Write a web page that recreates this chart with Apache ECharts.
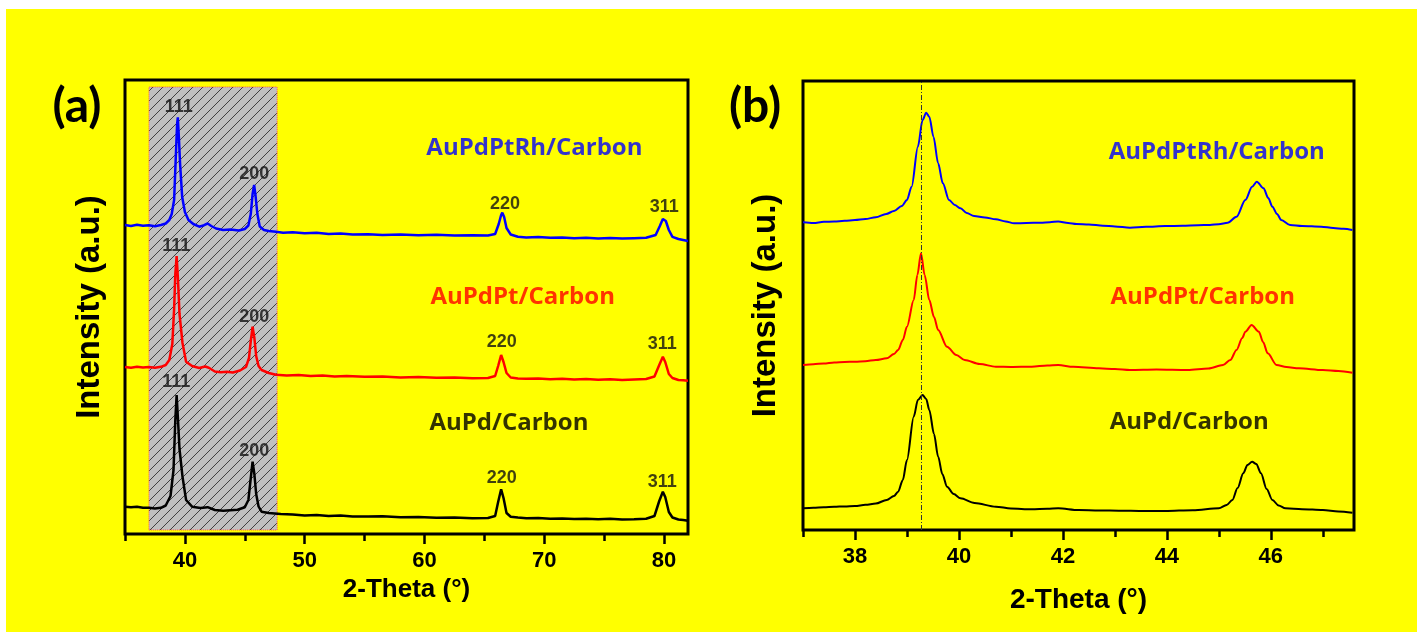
<!DOCTYPE html>
<html><head><meta charset="utf-8">
<script src="https://cdn.jsdelivr.net/npm/echarts@6/dist/echarts.min.js"></script>
<style>
html,body{margin:0;padding:0;background:#fff;}
#bg{position:absolute;left:6px;top:9px;right:0;bottom:0;background:#ffff00;}
#c{position:absolute;left:0;top:0;width:1417px;height:632px;}
</style></head><body>
<div id="bg"></div><div id="c"></div>
<script>
// ---------- DATA ----------
// Panel (a): full XRD patterns, stacked intensity (a.u.)
const majorTicksA = [40, 50, 60, 70, 80];
const minorTicksA = [35, 45, 55, 65, 75];
const majorTicksB = [38, 40, 42, 44, 46];
const minorTicksB = [37, 39, 41, 43, 45, 47];
const seriesNames = ['AuPdPtRh/Carbon', 'AuPdPt/Carbon', 'AuPd/Carbon'];
const seriesColors = ['#0000ff', '#ff0000', '#000000'];

const patternA_PtRh = [[35.0,3090],[35.5,3080],[36.0,3092],[36.5,3082],[37.0,3088],[37.5,3078],[38.0,3090],[38.4,3105],[38.7,3140],[38.9,3200],[39.1,3340],[39.25,3800],[39.35,4100],[39.41,4167],[39.5,3960],[39.6,3700],[39.77,3373],[40.0,3220],[40.3,3140],[40.7,3100],[41.2,3073],[41.6,3088],[41.9,3105],[42.2,3080],[42.6,3055],[43.2,3040],[43.8,3045],[44.5,3035],[45.0,3050],[45.3,3085],[45.5,3200],[45.65,3400],[45.78,3490],[45.9,3380],[46.05,3200],[46.25,3075],[46.6,3040],[47.0,3030],[47.6,3022],[48.2,3012],[49.0,3018],[50.0,3008],[51.0,3012],[52.0,3000],[53.0,3005],[54.0,2995],[55.3,2998],[56.5,2990],[58.0,2996],[59.5,2988],[61.0,2992],[62.5,2984],[64.0,2988],[65.3,2985],[65.9,3000],[66.2,3100],[66.4,3190],[66.5,3213],[66.65,3170],[66.85,3060],[67.2,2995],[67.8,2972],[68.5,2966],[69.5,2970],[70.5,2962],[71.5,2966],[72.5,2958],[73.5,2963],[74.5,2956],[75.5,2960],[76.5,2954],[77.5,2958],[78.5,2962],[79.3,2990],[79.65,3080],[79.9,3150],[80.0,3163],[80.15,3130],[80.4,3040],[80.7,2972],[81.2,2950],[81.6,2940],[82.0,2930]];

const patternA_Pt = [[35.0,1670],[35.5,1662],[36.0,1672],[36.5,1664],[37.0,1670],[37.5,1662],[38.0,1672],[38.4,1690],[38.7,1740],[38.95,1900],[39.1,2250],[39.2,2600],[39.31,2780],[39.42,2550],[39.55,2200],[39.8,1910],[40.1,1723],[40.6,1680],[41.2,1660],[41.7,1675],[42.0,1662],[42.5,1625],[43.0,1618],[43.5,1622],[44.0,1615],[44.6,1635],[45.1,1670],[45.35,1760],[45.5,1930],[45.65,2073],[45.8,1960],[45.95,1780],[46.15,1680],[46.4,1640],[47.0,1610],[47.6,1592],[48.5,1585],[49.5,1590],[50.5,1580],[51.5,1584],[52.5,1575],[53.5,1580],[55.0,1572],[56.5,1576],[58.0,1566],[59.5,1570],[61.0,1562],[62.5,1566],[64.0,1558],[65.3,1560],[65.9,1580],[66.15,1680],[66.4,1790],[66.6,1720],[66.85,1610],[67.2,1565],[67.8,1556],[68.5,1552],[69.5,1555],[70.5,1548],[71.5,1552],[72.5,1545],[73.5,1550],[74.5,1543],[75.5,1547],[76.5,1540],[77.5,1545],[78.5,1550],[79.2,1575],[79.6,1690],[79.9,1773],[80.1,1720],[80.4,1600],[80.7,1560],[81.2,1540],[81.6,1537],[82.0,1533]];

const patternA_Pd = [[35.0,273],[35.5,268],[36.0,272],[36.5,262],[37.0,262],[37.5,255],[38.0,262],[38.4,285],[38.8,380],[39.05,640],[39.2,1140],[39.31,1390],[39.42,1150],[39.55,850],[39.8,573],[40.1,340],[40.6,273],[41.3,260],[41.9,268],[42.5,240],[43.2,233],[43.8,238],[44.4,242],[45.0,268],[45.3,340],[45.5,560],[45.65,723],[45.8,600],[45.95,400],[46.15,275],[46.4,223],[47.0,210],[48.0,200],[49.0,195],[50.0,186],[51.0,190],[52.0,180],[53.0,184],[54.0,176],[55.3,174],[56.5,178],[58.0,168],[59.5,170],[61.0,162],[62.5,165],[64.0,158],[65.3,160],[65.9,180],[66.15,320],[66.4,447],[66.6,360],[66.85,210],[67.2,172],[67.8,165],[68.5,158],[69.5,160],[70.5,152],[71.5,156],[72.5,150],[73.5,153],[74.5,148],[75.5,152],[76.5,145],[77.5,148],[78.5,152],[79.2,180],[79.6,330],[79.9,423],[80.1,370],[80.4,220],[80.7,165],[81.2,145],[81.6,140],[82.0,133]];

// Panel (b): zoom on 37-47.6 degrees
const patternB_PtRh = [[37.0,3077],[37.2,3070],[37.4,3082],[37.6,3085],[37.8,3092],[38.0,3100],[38.2,3110],[38.4,3128],[38.6,3160],[38.75,3190],[38.9,3240],[39.0,3300],[39.09,3433],[39.21,3833],[39.30,4100],[39.37,4173],[39.43,4133],[39.51,3933],[39.60,3667],[39.69,3467],[39.81,3300],[39.92,3250],[40.03,3217],[40.15,3170],[40.29,3140],[40.5,3125],[40.71,3107],[40.9,3085],[41.06,3067],[41.3,3070],[41.57,3073],[41.75,3078],[41.91,3085],[42.1,3070],[42.26,3060],[42.5,3055],[42.77,3043],[43.0,3035],[43.29,3023],[43.6,3032],[43.97,3040],[44.3,3042],[44.6,3048],[44.83,3050],[45.0,3058],[45.17,3073],[45.34,3133],[45.51,3300],[45.64,3433],[45.73,3483],[45.86,3417],[45.95,3320],[46.03,3233],[46.12,3160],[46.2,3100],[46.37,3050],[46.6,3040],[46.97,3033],[47.2,3020],[47.4,3012],[47.57,3000]];

const patternB_Pt = [[37.0,1650],[37.2,1658],[37.4,1665],[37.6,1676],[37.8,1680],[38.0,1683],[38.2,1688],[38.4,1700],[38.61,1717],[38.75,1760],[38.83,1800],[38.92,1900],[39.0,2033],[39.13,2300],[39.2,2550],[39.27,2767],[39.34,2550],[39.43,2300],[39.52,2130],[39.60,2000],[39.77,1833],[39.95,1750],[40.11,1700],[40.4,1660],[40.71,1633],[41.0,1630],[41.4,1633],[41.7,1645],[41.91,1650],[42.2,1632],[42.69,1617],[43.0,1610],[43.29,1600],[43.8,1605],[44.4,1600],[44.8,1615],[45.08,1650],[45.22,1700],[45.34,1800],[45.45,1920],[45.51,1983],[45.63,2050],[45.77,1983],[45.85,1880],[45.94,1767],[46.11,1650],[46.3,1630],[46.54,1617],[47.0,1600],[47.3,1590],[47.57,1573]];

const patternB_Pd = [[37.0,217],[37.2,222],[37.4,228],[37.6,232],[37.8,236],[38.0,240],[38.2,252],[38.4,265],[38.61,300],[38.75,340],[38.83,383],[38.92,500],[39.0,700],[39.13,1133],[39.21,1300],[39.30,1350],[39.37,1310],[39.43,1200],[39.52,960],[39.60,733],[39.68,560],[39.77,433],[39.9,360],[40.03,317],[40.3,270],[40.71,233],[41.0,215],[41.4,207],[41.7,213],[41.91,217],[42.3,200],[42.7,196],[43.11,193],[43.5,190],[43.97,190],[44.5,198],[45.0,217],[45.15,250],[45.26,300],[45.36,420],[45.47,567],[45.55,650],[45.64,683],[45.72,660],[45.81,567],[45.92,410],[46.03,300],[46.15,245],[46.28,217],[46.6,208],[47.0,200],[47.3,185],[47.57,173]];

// Peak (hkl) annotations in panel (a): [2theta, intensity, label]
const peakLabelsA = [
  [39.48,4270,'111'],[45.79,3600,'200'],[66.72,3300,'220'],[80.02,3270,'311'],
  [39.27,2880,'111'],[45.79,2170,'200'],[66.46,1920,'220'],[79.85,1900,'311'],
  [39.27,1520,'111'],[45.79,830,'200'],[66.46,560,'220'],[79.85,520,'311']
];
// Sample name annotation anchors
const nameLabelsA = [[69.18,3860],[68.2,2370],[67.05,1110]];
const nameLabelsB = [[44.96,3780],[44.69,2330],[44.43,1080]];
// Shaded (hatched) region in panel (a) and reference line in panel (b)
const shadeX = [37.0, 47.7];
const shadeY = [40, 4470];
const refLine111 = 39.27;

// ---------- CHART ----------
function hatch() {
  const c = document.createElement('canvas'); c.width = 10; c.height = 10;
  const g = c.getContext('2d');
  g.fillStyle = '#c0c0c0'; g.fillRect(0, 0, 10, 10);
  g.strokeStyle = '#404040'; g.lineWidth = 1;
  g.beginPath();
  g.moveTo(-1, 11); g.lineTo(11, -1);
  g.moveTo(-1, 1); g.lineTo(1, -1);
  g.moveTo(9, 11); g.lineTo(11, 9);
  g.stroke();
  return c;
}
const AX = 'Liberation Sans';
const LBL = 'Open Sans';
const chart = echarts.init(document.getElementById('c'), null, {renderer: 'canvas'});

function xAxes(gi, min, max, major, minor, nameGap, nameSize) {
  return [
    {gridIndex: gi, type: 'value', min, max, position: 'bottom',
     axisLine: {show: false}, splitLine: {show: false},
     axisTick: {show: true, inside: false, customValues: major, length: 10, lineStyle: {width: 2.5, color: '#000'}},
     axisLabel: {customValues: major, fontSize: 22, fontWeight: 'bold', color: '#000', margin: 16, fontFamily: AX},
     name: '2-Theta (°)', nameLocation: 'middle', nameGap,
     nameTextStyle: {fontSize: nameSize, fontWeight: 'bold', color: '#000', fontFamily: AX}},
    {gridIndex: gi, type: 'value', min, max, position: 'bottom',
     axisLine: {show: false}, splitLine: {show: false}, axisLabel: {show: false},
     axisTick: {show: true, inside: false, customValues: minor, length: 7, lineStyle: {width: 2.5, color: '#000'}}}
  ];
}
function yAxis(gi, max, nameGap) {
  return {gridIndex: gi, type: 'value', min: 0, max,
    axisLine: {show: false}, axisTick: {show: false}, axisLabel: {show: false}, splitLine: {show: false},
    name: 'Intensity (a.u.)', nameLocation: 'middle', nameGap, nameRotate: 90,
    nameTextStyle: {fontSize: 33, fontWeight: 'bold', color: '#000', fontFamily: AX}};
}
function line(xi, yi, data, color, w, smooth) {
  return {type: 'line', xAxisIndex: xi, yAxisIndex: yi, data, showSymbol: false, symbol: 'none',
    smooth: smooth, smoothMonotone: 'x', z: 3, silent: true,
    lineStyle: {color, width: w}};
}
function nameSeries(xi, yi, anchors, size) {
  return {type: 'scatter', xAxisIndex: xi, yAxisIndex: yi, symbolSize: 0, silent: true, z: 5,
    data: anchors.map((p, i) => ({value: p, name: seriesNames[i],
      label: {color: seriesColors[i]}})),
    label: {show: true, position: 'inside', formatter: '{b}', fontSize: size, fontWeight: 'bold', fontFamily: LBL}};
}

const option = {
  backgroundColor: 'transparent',
  animation: false,
  grid: [
    {left: 125, top: 80, width: 563, height: 454, show: true, borderColor: '#000', borderWidth: 3, backgroundColor: 'transparent'},
    {left: 803, top: 81, width: 551, height: 449, show: true, borderColor: '#000', borderWidth: 3, backgroundColor: 'transparent'}
  ],
  xAxis: [].concat(
    xAxes(0, 35, 82, majorTicksA, minorTicksA, 39, 26),
    xAxes(1, 37, 47.6, majorTicksB, minorTicksB, 56, 28)
  ),
  yAxis: [yAxis(0, 4540, 19), yAxis(1, 4490, 21)],
  graphic: {elements: [
    {type: 'text', style: {text: '(a)', x: 77, y: 107, align: 'center', verticalAlign: 'middle', font: 'bold 48px Lato', fill: '#000'}},
    {type: 'text', style: {text: '(b)', x: 755, y: 107, align: 'center', verticalAlign: 'middle', font: 'bold 48px Lato', fill: '#000'}}
  ]},
  series: [
    {type: 'line', xAxisIndex: 0, yAxisIndex: 0, z: 1, silent: true, showSymbol: false,
     data: [[shadeX[0], shadeY[0]], [shadeX[1], shadeY[1]]], lineStyle: {width: 0, opacity: 0},
     markArea: {silent: true,
       itemStyle: {color: {image: hatch(), repeat: 'repeat'}, borderColor: '#ff5050', borderWidth: 1, borderType: 'dotted'},
       data: [[{xAxis: shadeX[0], yAxis: shadeY[0]}, {xAxis: shadeX[1], yAxis: shadeY[1]}]]}},
    line(0, 0, patternA_PtRh, seriesColors[0], 2.5, false),
    line(0, 0, patternA_Pt, seriesColors[1], 2.5, false),
    line(0, 0, patternA_Pd, seriesColors[2], 2.5, false),
    Object.assign(line(2, 1, patternB_Pd, seriesColors[2], 2, 0.3), {
      markLine: {silent: true, symbol: 'none', label: {show: false},
        lineStyle: {color: '#333', width: 1, type: [5, 2, 1, 2]},
        data: [{xAxis: refLine111}]}}),
    line(2, 1, patternB_PtRh, seriesColors[0], 2, 0.3),
    line(2, 1, patternB_Pt, seriesColors[1], 2, 0.3),
    {type: 'scatter', xAxisIndex: 0, yAxisIndex: 0, symbolSize: 0, silent: true, z: 6,
     data: peakLabelsA.map(p => ({value: [p[0], p[1]], name: p[2]})),
     label: {show: true, position: 'inside', formatter: '{b}', fontSize: 18, fontWeight: 'bold', color: '#111', fontFamily: AX}},
    nameSeries(0, 0, nameLabelsA, 24),
    nameSeries(2, 1, nameLabelsB, 24)
  ]
};
chart.setOption(option);
</script>
</body></html>
